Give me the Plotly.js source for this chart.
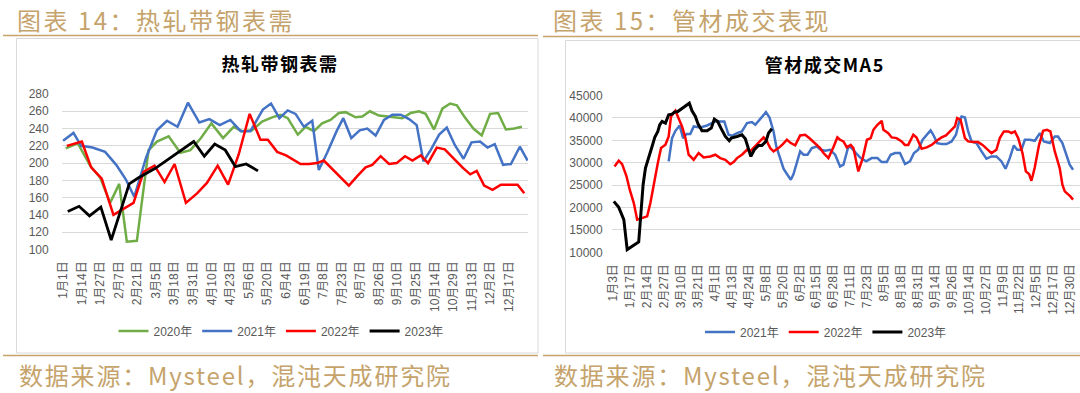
<!DOCTYPE html>
<html>
<head>
<meta charset="utf-8">
<script src="https://cdn.plot.ly/plotly-3.0.1.min.js"></script>
<style>
html,body{margin:0;padding:0;background:#fff;}
#chart{width:1080px;height:393px;}
#chart g.annotation[data-index="0"] text,
#chart g.annotation[data-index="1"] text{letter-spacing:2.5px;}
#chart g.annotation[data-index="2"] text,
#chart g.annotation[data-index="3"] text{letter-spacing:1.5px;}
#chart g.annotation[data-index="4"] text,
#chart g.annotation[data-index="5"] text{letter-spacing:1.8px;}
</style>
</head>
<body>
<div id="chart"></div>
<script>
// ---------------- Data: 热轧带钢表需 (left) ----------------
const hrTickLabels = ['1月1日','1月14日','1月27日','2月7日','2月21日','3月5日','3月18日','3月31日','4月10日','4月23日','5月6日','5月20日','6月4日','6月19日','7月8日','7月23日','8月7日','8月26日','9月10日','9月25日','10月14日','10月29日','11月13日','12月2日','12月17日'];
const hrYTicks = [100,120,140,160,180,200,220,240,260,280];
const hrSeriesNames = ['2020年','2021年','2022年','2023年'];

const hr2020Pos = [0.14,0.79,1.46,2.0,2.53,3.02,3.43,3.97,4.6,5.05,5.68,6.31,6.85,7.42,7.98,8.61,9.18,9.63,10.17,10.71,11.25,11.7,12.09,12.63,13.05,13.5,13.94,14.39,14.84,15.2,15.74,16.1,16.51,17.0,17.45,17.9,18.26,18.71,19.15,19.51,19.96,20.41,20.83,21.19,21.62,22.08,22.53,22.98,23.41,23.83,24.28,24.69];
const hr2020Val = [217,223,197,183,154,176,109,110,215,225,231,212,215,229,246,229,242,237,238,248,253,256,252,233,242,237,246,250,258,259,253,254,260,255,254,253,252,258,260,257,239,263,269,267,253,240,232,257,258,239,240,242];

const hr2021Pos = [0,0.56,0.97,1.58,2.26,2.86,3.38,3.83,4.46,5.05,5.59,6.16,6.72,7.33,7.87,8.43,9.0,9.56,10.08,10.75,11.19,11.64,12.09,12.51,12.96,13.41,13.76,14.21,14.72,15.08,15.51,15.96,16.37,16.82,17.27,17.72,18.17,18.62,19.03,19.39,19.78,20.24,20.65,21.08,21.55,21.98,22.44,22.84,23.23,23.68,24.1,24.58,25.0];
const hr2021Val = [226,235,220,218,213,198,181,161,206,238,249,242,270,247,251,244,250,237,237,262,269,252,261,257,242,249,192,212,237,252,229,238,240,232,250,256,256,251,244,202,215,233,241,221,205,224,225,218,222,198,199,219,203];

const hr2022Pos = [0.2,1.01,1.51,2.08,2.71,3.16,3.79,4.33,4.92,5.46,6.0,6.61,7.21,7.74,8.32,8.88,9.45,10.04,10.62,11.02,11.52,12.0,12.78,13.23,13.67,14.03,14.75,15.38,15.83,16.28,16.64,17.09,17.54,17.95,18.4,18.8,19.25,19.64,20.11,20.54,21.04,21.49,21.91,22.26,22.66,23.11,23.56,24.01,24.46,24.82];
const hr2022Val = [220,225,195,182,140,146,154,190,197,178,199,154,165,177,197,175,210,257,227,227,213,209,199,199,200,203,188,174,185,195,198,208,199,200,208,203,209,200,218,216,205,195,187,191,174,169,175,175,175,165];

const hr2023Pos = [0.25,0.86,1.42,2.03,2.59,3.56,4.06,4.55,4.96,5.5,6.04,6.49,7.03,7.6,8.16,8.73,9.27,9.85,10.49];
const hr2023Val = [144,150,139,149,111,176,183,189,194,202,210,217,225,208,222,215,196,199,191];

// ---------------- Data: 管材成交MA5 (right) ----------------
const pipeTickLabels = ['1月3日','1月17日','2月14日','2月27日','3月10日','3月21日','4月1日','4月13日','4月24日','5月8日','5月20日','6月2日','6月15日','6月28日','7月11日','7月23日','8月5日','8月18日','8月31日','9月14日','9月26日','10月14日','10月27日','11月9日','11月22日','12月5日','12月17日','12月30日'];
const pipeYTicks = [10000,15000,20000,25000,30000,35000,40000,45000];
const pipeSeriesNames = ['2021年','2022年','2023年'];

const pipe2021Pos = [3.26,3.46,3.66,3.91,4.11,4.31,4.54,4.74,5.13,5.53,6.02,6.55,6.8,7.0,7.3,7.59,7.89,8.18,8.38,8.63,8.83,9.01,9.22,9.46,9.62,9.85,10.05,10.25,10.48,10.64,10.84,11.03,11.23,11.47,11.72,12.02,12.25,12.51,12.8,13.1,13.39,13.59,13.88,14.08,14.33,14.61,14.93,15.26,15.6,15.85,16.15,16.38,16.64,16.93,17.23,17.52,17.76,18.01,18.27,18.5,18.74,18.9,19.13,19.39,19.68,19.98,20.24,20.43,20.57,20.77,20.96,21.16,21.45,21.75,22.04,22.34,22.63,22.93,23.17,23.42,23.66,23.86,24.11,24.31,24.6,24.9,25.2,25.43,25.79,26.08,26.27,26.53,26.76,26.96,27.16];
const pipe2021Val = [30290,35490,37120,38310,35490,36380,36380,38090,37870,38310,39200,39200,36230,36010,36600,36980,38830,39060,38460,39580,40320,41290,40100,36980,33630,31030,28650,27470,26200,27470,29920,32520,31780,31780,33260,33630,32890,32670,32890,31780,29170,29550,33630,33260,32150,31030,30290,31030,31030,30140,30140,31780,32150,32150,29690,30290,32150,32890,35120,36230,37200,36230,34380,34150,34150,34750,36230,39200,40320,40100,36980,34750,34380,32520,30880,31400,31400,30290,28650,31030,33860,32890,32890,35120,35120,34900,36600,34750,34380,35860,35860,34380,31780,29550,28430];

const pipe2022Pos = [0.06,0.31,0.51,0.77,0.96,1.2,1.4,1.69,1.99,2.18,2.38,2.62,2.81,3.07,3.26,3.4,3.66,4.05,4.25,4.44,4.74,5.03,5.33,5.72,6.02,6.31,6.61,6.9,7.1,7.3,7.59,7.89,8.08,8.38,8.63,8.87,9.07,9.26,9.46,9.75,10.01,10.25,10.48,10.74,11.03,11.33,11.62,11.92,12.21,12.41,12.7,12.99,13.23,13.39,13.59,13.79,14.02,14.18,14.47,14.73,14.98,15.2,15.36,15.6,15.85,15.95,16.24,16.44,16.73,17.03,17.22,17.42,17.72,17.91,18.21,18.51,18.8,19.1,19.39,19.65,19.88,20.18,20.31,20.51,20.77,20.96,21.26,21.55,21.81,22.04,22.34,22.63,22.83,23.07,23.33,23.52,23.72,23.92,24.17,24.37,24.56,24.7,24.89,25.15,25.39,25.62,25.82,26.08,26.37,26.53,26.67,27.0,27.16];
const pipe2022Val = [29170,30440,29690,26950,23970,21000,17290,17660,18030,21000,25460,29920,33260,34000,35860,40320,41580,38090,35490,31780,30660,32150,31180,31400,31780,31030,30660,29690,30140,31030,31780,32890,32520,33630,34600,35640,34750,33260,32520,33260,34150,35120,34380,33860,36080,36230,35340,34380,33260,32150,31030,33410,35640,35120,34750,33410,33970,33260,28060,31030,35120,35490,37350,38460,39350,37350,36600,35640,35490,34750,33970,33970,36230,35640,33110,33410,33970,34900,35640,36080,36980,38090,39950,39580,35490,34750,34600,34600,33970,33260,32150,32890,35490,36980,36980,36600,36980,35490,32150,28060,27470,25980,28800,34000,37120,37350,36980,32520,28800,25090,23600,22490,21750];

const pipe2023Pos = [0.02,0.31,0.61,0.81,1.49,1.75,1.89,2.08,2.28,2.44,2.62,2.73,2.87,3.07,3.26,3.46,3.6,3.8,4.05,4.31,4.48,4.64,4.84,5.0,5.23,5.53,5.78,5.96,6.16,6.35,6.61,6.84,6.96,7.3,7.59,7.79,7.98,8.12,8.32,8.57,8.77,9.01,9.16,9.36];
const pipe2023Val = [21370,20040,17290,10600,12310,25090,28800,31400,33630,35640,36980,38460,39200,38830,40690,40840,41290,41430,42180,42770,43290,41580,40320,38610,37120,37120,37720,39730,39200,37720,35860,34900,35490,35860,36230,35340,33110,31400,32890,33860,33860,34750,36600,37570];

// ---------------- Layout helpers (pixel -> paper) ----------------
const W = 1080, H = 393;
const PX = p => p / W;
const PY = p => (H - p) / H;

const GREEN = '#70AD47', BLUE = '#4472C4', RED = '#FF0000', BLACK = '#000000';
const TAN = '#C5A36B';
const GRID = '#D9D9D9';
const TICKC = '#595959';
const NUMFONT = 'Liberation Sans, Noto Sans CJK SC, sans-serif';
const CJK = 'Noto Sans CJK SC, sans-serif';

function line(x, y, name, color, width, xa, ya, legend) {
  return {type:'scatter', mode:'lines', x:x, y:y, name:name,
    line:{color:color, width:width, shape:'linear'},
    xaxis:xa, yaxis:ya, legend:legend, hoverinfo:'skip'};
}

const traces = [
  line(hr2020Pos, hr2020Val, hrSeriesNames[0], GREEN, 2.5, 'x', 'y', 'legend'),
  line(hr2021Pos, hr2021Val, hrSeriesNames[1], BLUE, 2.5, 'x', 'y', 'legend'),
  line(hr2022Pos, hr2022Val, hrSeriesNames[2], RED, 2.5, 'x', 'y', 'legend'),
  line(hr2023Pos, hr2023Val, hrSeriesNames[3], BLACK, 2.8, 'x', 'y', 'legend'),
  line(pipe2021Pos, pipe2021Val, pipeSeriesNames[0], BLUE, 2.5, 'x2', 'y2', 'legend2'),
  line(pipe2022Pos, pipe2022Val, pipeSeriesNames[1], RED, 2.5, 'x2', 'y2', 'legend2'),
  line(pipe2023Pos, pipe2023Val, pipeSeriesNames[2], BLACK, 3, 'x2', 'y2', 'legend2')
];

const xTickFont = {family:NUMFONT, size:12, color:TICKC};
const yTickFont = {family:NUMFONT, size:12, color:TICKC};

const layout = {
  width:W, height:H,
  margin:{l:0, r:0, t:0, b:0, pad:0},
  paper_bgcolor:'#FFFFFF', plot_bgcolor:'rgba(0,0,0,0)',
  showlegend:true,
  xaxis:{
    domain:[PX(61.7), PX(528)], range:[-0.075, 25.02],
    tickmode:'array', tickvals:hrTickLabels.map((_, i) => i), ticktext:hrTickLabels,
    tickangle:-90, ticks:'', showgrid:false, zeroline:false, showline:false,
    tickfont:xTickFont, ticklabelstandoff:8, anchor:'y', fixedrange:true
  },
  yaxis:{
    domain:[PY(249.93), PY(93.57)], range:[99.5, 280.5],
    tickmode:'array', tickvals:hrYTicks, ticks:'',
    showgrid:true, gridcolor:GRID, gridwidth:1, zeroline:false, showline:false,
    tickfont:yTickFont, ticklabelstandoff:12, anchor:'x', fixedrange:true
  },
  xaxis2:{
    domain:[PX(611.7), 1], range:[-0.106, 27.57],
    tickmode:'array', tickvals:pipeTickLabels.map((_, i) => i), ticktext:pipeTickLabels,
    tickangle:-90, ticks:'', showgrid:false, zeroline:false, showline:false,
    tickfont:xTickFont, ticklabelstandoff:8, anchor:'y2', fixedrange:true
  },
  yaxis2:{
    domain:[PY(252.75), PY(95.05)], range:[9900, 45100],
    tickmode:'array', tickvals:pipeYTicks, tickformat:'d', ticks:'',
    showgrid:true, gridcolor:GRID, gridwidth:1, zeroline:false, showline:false,
    tickfont:yTickFont, ticklabelstandoff:8, anchor:'x2', fixedrange:true
  },
  legend:{
    orientation:'h', x:PX(281), xanchor:'center', y:PY(331), yanchor:'middle',
    font:{family:NUMFONT, size:12, color:TICKC}, bgcolor:'rgba(0,0,0,0)', borderwidth:0,
    traceorder:'normal'
  },
  legend2:{
    orientation:'h', x:PX(826), xanchor:'center', y:PY(332), yanchor:'middle',
    font:{family:NUMFONT, size:12, color:TICKC}, bgcolor:'rgba(0,0,0,0)', borderwidth:0,
    traceorder:'normal'
  },
  shapes:[
    // chart boxes
    {type:'rect', xref:'paper', yref:'paper', x0:PX(16.5), x1:PX(538), y0:PY(353), y1:PY(38.5), line:{color:GRID, width:1}, fillcolor:'rgba(0,0,0,0)', layer:'below'},
    {type:'rect', xref:'paper', yref:'paper', x0:PX(565.5), x1:PX(1090), y0:PY(353), y1:PY(40.5), line:{color:GRID, width:1}, fillcolor:'rgba(0,0,0,0)', layer:'below'},
    // header rules
    {type:'line', xref:'paper', yref:'paper', x0:PX(3), x1:PX(538), y0:PY(35.5), y1:PY(35.5), line:{color:TAN, width:1.5}},
    {type:'line', xref:'paper', yref:'paper', x0:PX(543), x1:PX(1080), y0:PY(36.5), y1:PY(36.5), line:{color:TAN, width:1.5}},
    // footer rules
    {type:'line', xref:'paper', yref:'paper', x0:PX(3), x1:PX(538), y0:PY(355.5), y1:PY(355.5), line:{color:TAN, width:1.5}},
    {type:'line', xref:'paper', yref:'paper', x0:PX(543), x1:PX(1080), y0:PY(355.5), y1:PY(355.5), line:{color:TAN, width:1.5}}
  ],
  annotations:[
    {text:'图表 14：热轧带钢表需', xref:'paper', yref:'paper', x:PX(31), y:PY(0.5), xanchor:'left', yanchor:'top', showarrow:false, borderpad:0, font:{family:CJK, size:24, color:TAN}},
    {text:'图表 15：管材成交表现', xref:'paper', yref:'paper', x:PX(567), y:PY(0.5), xanchor:'left', yanchor:'top', showarrow:false, borderpad:0, font:{family:CJK, size:24, color:TAN}},
    {text:'热轧带钢表需', xref:'paper', yref:'paper', x:PX(280), y:PY(63), xanchor:'center', yanchor:'middle', showarrow:false, font:{family:CJK, size:18, color:'#000000', weight:700}},
    {text:'管材成交MA5', xref:'paper', yref:'paper', x:PX(825), y:PY(64), xanchor:'center', yanchor:'middle', showarrow:false, font:{family:CJK, size:18, color:'#000000', weight:700}},
    {text:'数据来源：Mysteel，混沌天成研究院', xref:'paper', yref:'paper', x:PX(36), y:PY(392.5), xanchor:'left', yanchor:'bottom', showarrow:false, borderpad:0, font:{family:CJK, size:24, color:TAN}},
    {text:'数据来源：Mysteel，混沌天成研究院', xref:'paper', yref:'paper', x:PX(571), y:PY(392.5), xanchor:'left', yanchor:'bottom', showarrow:false, borderpad:0, font:{family:CJK, size:24, color:TAN}}
  ]
};

Plotly.newPlot('chart', traces, layout, {staticPlot:true, displayModeBar:false, responsive:false});
</script>
</body>
</html>
